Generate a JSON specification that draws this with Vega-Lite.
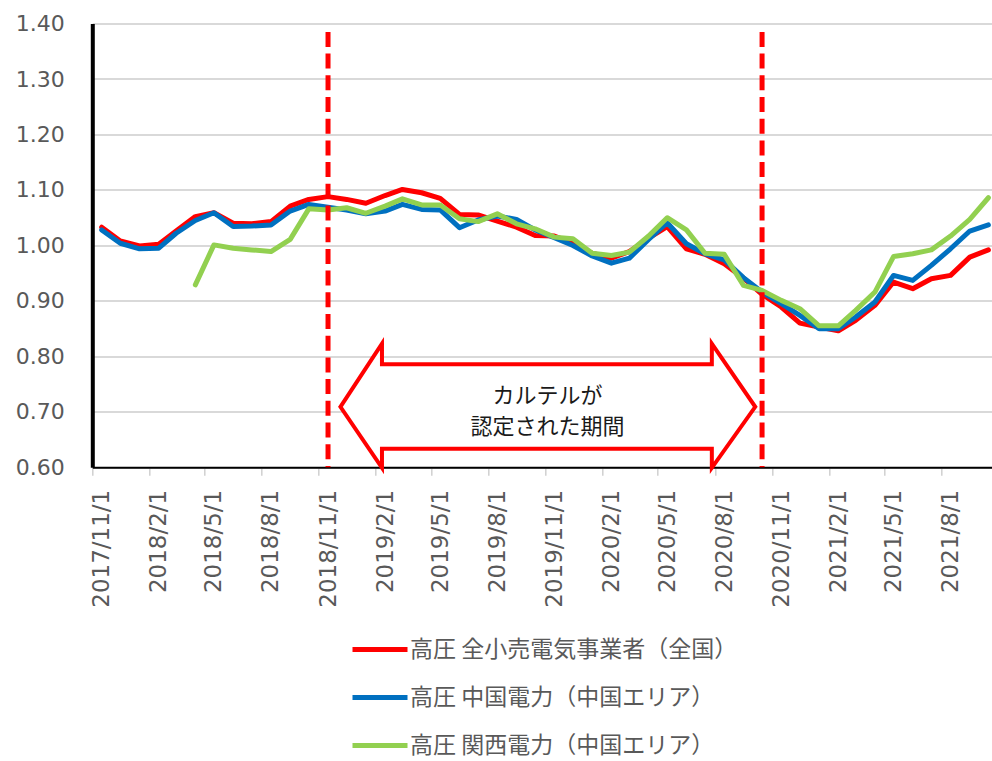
{
  "$schema": "https://vega.github.io/schema/vega-lite/v6.json",
  "autosize": {"type": "none"},
  "padding": {"left": 92.3, "top": 23.6, "right": 0, "bottom": 293.7},
  "width": 899.7,
  "height": 443.7,
  "background": "white",
  "config": {
    "view": {"stroke": null},
    "axis": {"labelFont": "DejaVu Sans", "labelColor": "#595959"}
  },
  "layer": [
    {
      "data": {"values": [
        {"month":"2017-11-01","高圧 全小売電気事業者（全国）":1.033,"高圧 中国電力（中国エリア）":1.028,"高圧 関西電力（中国エリア）":null},
        {"month":"2017-12-01","高圧 全小売電気事業者（全国）":1.008,"高圧 中国電力（中国エリア）":1.004,"高圧 関西電力（中国エリア）":null},
        {"month":"2018-01-01","高圧 全小売電気事業者（全国）":0.999,"高圧 中国電力（中国エリア）":0.994,"高圧 関西電力（中国エリア）":null},
        {"month":"2018-02-01","高圧 全小売電気事業者（全国）":1.002,"高圧 中国電力（中国エリア）":0.995,"高圧 関西電力（中国エリア）":null},
        {"month":"2018-03-01","高圧 全小売電気事業者（全国）":1.026,"高圧 中国電力（中国エリア）":1.022,"高圧 関西電力（中国エリア）":null},
        {"month":"2018-04-01","高圧 全小売電気事業者（全国）":1.052,"高圧 中国電力（中国エリア）":1.045,"高圧 関西電力（中国エリア）":0.929},
        {"month":"2018-05-01","高圧 全小売電気事業者（全国）":1.059,"高圧 中国電力（中国エリア）":1.059,"高圧 関西電力（中国エリア）":1.001},
        {"month":"2018-06-01","高圧 全小売電気事業者（全国）":1.040,"高圧 中国電力（中国エリア）":1.034,"高圧 関西電力（中国エリア）":0.995},
        {"month":"2018-07-01","高圧 全小売電気事業者（全国）":1.039,"高圧 中国電力（中国エリア）":1.035,"高圧 関西電力（中国エリア）":0.992},
        {"month":"2018-08-01","高圧 全小売電気事業者（全国）":1.043,"高圧 中国電力（中国エリア）":1.037,"高圧 関西電力（中国エリア）":0.989},
        {"month":"2018-09-01","高圧 全小売電気事業者（全国）":1.071,"高圧 中国電力（中国エリア）":1.062,"高圧 関西電力（中国エリア）":1.011},
        {"month":"2018-10-01","高圧 全小売電気事業者（全国）":1.083,"高圧 中国電力（中国エリア）":1.074,"高圧 関西電力（中国エリア）":1.066},
        {"month":"2018-11-01","高圧 全小売電気事業者（全国）":1.088,"高圧 中国電力（中国エリア）":1.069,"高圧 関西電力（中国エリア）":1.064},
        {"month":"2018-12-01","高圧 全小売電気事業者（全国）":1.083,"高圧 中国電力（中国エリア）":1.064,"高圧 関西電力（中国エリア）":1.068},
        {"month":"2019-01-01","高圧 全小売電気事業者（全国）":1.076,"高圧 中国電力（中国エリア）":1.057,"高圧 関西電力（中国エリア）":1.058},
        {"month":"2019-02-01","高圧 全小売電気事業者（全国）":1.090,"高圧 中国電力（中国エリア）":1.062,"高圧 関西電力（中国エリア）":1.071},
        {"month":"2019-03-01","高圧 全小売電気事業者（全国）":1.101,"高圧 中国電力（中国エリア）":1.074,"高圧 関西電力（中国エリア）":1.084},
        {"month":"2019-04-01","高圧 全小売電気事業者（全国）":1.095,"高圧 中国電力（中国エリア）":1.065,"高圧 関西電力（中国エリア）":1.073},
        {"month":"2019-05-01","高圧 全小売電気事業者（全国）":1.085,"高圧 中国電力（中国エリア）":1.064,"高圧 関西電力（中国エリア）":1.073},
        {"month":"2019-06-01","高圧 全小売電気事業者（全国）":1.056,"高圧 中国電力（中国エリア）":1.032,"高圧 関西電力（中国エリア）":1.048},
        {"month":"2019-07-01","高圧 全小売電気事業者（全国）":1.055,"高圧 中国電力（中国エリア）":1.046,"高圧 関西電力（中国エリア）":1.043},
        {"month":"2019-08-01","高圧 全小売電気事業者（全国）":1.044,"高圧 中国電力（中国エリア）":1.053,"高圧 関西電力（中国エリア）":1.057},
        {"month":"2019-09-01","高圧 全小売電気事業者（全国）":1.033,"高圧 中国電力（中国エリア）":1.047,"高圧 関西電力（中国エリア）":1.039},
        {"month":"2019-10-01","高圧 全小売電気事業者（全国）":1.018,"高圧 中国電力（中国エリア）":1.028,"高圧 関西電力（中国エリア）":1.030},
        {"month":"2019-11-01","高圧 全小売電気事業者（全国）":1.017,"高圧 中国電力（中国エリア）":1.014,"高圧 関西電力（中国エリア）":1.015},
        {"month":"2019-12-01","高圧 全小売電気事業者（全国）":1.004,"高圧 中国電力（中国エリア）":1.000,"高圧 関西電力（中国エリア）":1.012},
        {"month":"2020-01-01","高圧 全小売電気事業者（全国）":0.986,"高圧 中国電力（中国エリア）":0.981,"高圧 関西電力（中国エリア）":0.986},
        {"month":"2020-02-01","高圧 全小売電気事業者（全国）":0.977,"高圧 中国電力（中国エリア）":0.968,"高圧 関西電力（中国エリア）":0.982},
        {"month":"2020-03-01","高圧 全小売電気事業者（全国）":0.989,"高圧 中国電力（中国エリア）":0.977,"高圧 関西電力（中国エリア）":0.988},
        {"month":"2020-04-01","高圧 全小売電気事業者（全国）":1.013,"高圧 中国電力（中国エリア）":1.011,"高圧 関西電力（中国エリア）":1.017},
        {"month":"2020-05-01","高圧 全小売電気事業者（全国）":1.034,"高圧 中国電力（中国エリア）":1.041,"高圧 関西電力（中国エリア）":1.050},
        {"month":"2020-06-01","高圧 全小売電気事業者（全国）":0.994,"高圧 中国電力（中国エリア）":1.003,"高圧 関西電力（中国エリア）":1.028},
        {"month":"2020-07-01","高圧 全小売電気事業者（全国）":0.984,"高圧 中国電力（中国エリア）":0.985,"高圧 関西電力（中国エリア）":0.986},
        {"month":"2020-08-01","高圧 全小売電気事業者（全国）":0.967,"高圧 中国電力（中国エリア）":0.974,"高圧 関西電力（中国エリア）":0.984},
        {"month":"2020-09-01","高圧 全小売電気事業者（全国）":0.941,"高圧 中国電力（中国エリア）":0.942,"高圧 関西電力（中国エリア）":0.928},
        {"month":"2020-10-01","高圧 全小売電気事業者（全国）":0.912,"高圧 中国電力（中国エリア）":0.916,"高圧 関西電力（中国エリア）":0.919},
        {"month":"2020-11-01","高圧 全小売電気事業者（全国）":0.889,"高圧 中国電力（中国エリア）":0.895,"高圧 関西電力（中国エリア）":0.901},
        {"month":"2020-12-01","高圧 全小売電気事業者（全国）":0.860,"高圧 中国電力（中国エリア）":0.874,"高圧 関西電力（中国エリア）":0.886},
        {"month":"2021-01-01","高圧 全小売電気事業者（全国）":0.853,"高圧 中国電力（中国エリア）":0.850,"高圧 関西電力（中国エリア）":0.855},
        {"month":"2021-02-01","高圧 全小売電気事業者（全国）":0.846,"高圧 中国電力（中国エリア）":0.850,"高圧 関西電力（中国エリア）":0.855},
        {"month":"2021-03-01","高圧 全小売電気事業者（全国）":0.865,"高圧 中国電力（中国エリア）":0.871,"高圧 関西電力（中国エリア）":0.883},
        {"month":"2021-04-01","高圧 全小売電気事業者（全国）":0.892,"高圧 中国電力（中国エリア）":0.898,"高圧 関西電力（中国エリア）":0.916},
        {"month":"2021-05-01","高圧 全小売電気事業者（全国）":0.934,"高圧 中国電力（中国エリア）":0.946,"高圧 関西電力（中国エリア）":0.980},
        {"month":"2021-06-01","高圧 全小売電気事業者（全国）":0.922,"高圧 中国電力（中国エリア）":0.937,"高圧 関西電力（中国エリア）":0.985},
        {"month":"2021-07-01","高圧 全小売電気事業者（全国）":0.940,"高圧 中国電力（中国エリア）":0.964,"高圧 関西電力（中国エリア）":0.992},
        {"month":"2021-08-01","高圧 全小売電気事業者（全国）":0.946,"高圧 中国電力（中国エリア）":0.994,"高圧 関西電力（中国エリア）":1.017},
        {"month":"2021-09-01","高圧 全小売電気事業者（全国）":0.979,"高圧 中国電力（中国エリア）":1.026,"高圧 関西電力（中国エリア）":1.047},
        {"month":"2021-10-01","高圧 全小売電気事業者（全国）":0.992,"高圧 中国電力（中国エリア）":1.037,"高圧 関西電力（中国エリア）":1.086}
      ]},
      "transform": [
        {"fold": ["高圧 全小売電気事業者（全国）", "高圧 中国電力（中国エリア）", "高圧 関西電力（中国エリア）"], "as": ["series", "value"]}
      ],
      "mark": {"type": "line", "strokeWidth": 5, "strokeCap": "round", "strokeJoin": "round"},
      "encoding": {
        "x": {
          "field": "month", "type": "temporal",
          "scale": {"type": "utc", "domain": [{"year":2017,"month":10,"date":16,"hours":20,"utc":true},{"year":2021,"month":10,"date":6,"hours":20,"utc":true}], "nice": false},
          "axis": {
            "title": null,
            "values": [
              {"year":2017,"month":11,"date":1,"utc":true},
              {"year":2018,"month":2,"date":1,"utc":true},
              {"year":2018,"month":5,"date":1,"utc":true},
              {"year":2018,"month":8,"date":1,"utc":true},
              {"year":2018,"month":11,"date":1,"utc":true},
              {"year":2019,"month":2,"date":1,"utc":true},
              {"year":2019,"month":5,"date":1,"utc":true},
              {"year":2019,"month":8,"date":1,"utc":true},
              {"year":2019,"month":11,"date":1,"utc":true},
              {"year":2020,"month":2,"date":1,"utc":true},
              {"year":2020,"month":5,"date":1,"utc":true},
              {"year":2020,"month":8,"date":1,"utc":true},
              {"year":2020,"month":11,"date":1,"utc":true},
              {"year":2021,"month":2,"date":1,"utc":true},
              {"year":2021,"month":5,"date":1,"utc":true},
              {"year":2021,"month":8,"date":1,"utc":true}
            ],
            "format": "%Y/%-m/%-d",
            "labelAngle": -90,
            "labelFontSize": 23,
            "labelPadding": 14,
            "labelOverlap": false,
            "labelFlush": false,
            "tickOffset": -9.4,
            "labelOffset": 9.4,
            "tickSize": 8,
            "tickColor": "#d0d0d0",
            "tickWidth": 1.5,
            "domainColor": "#000000",
            "domainWidth": 2,
            "grid": false
          }
        },
        "y": {
          "field": "value", "type": "quantitative",
          "scale": {"domain": [0.6, 1.4], "nice": false, "zero": false},
          "axis": {
            "title": null,
            "values": [0.6, 0.7, 0.8, 0.9, 1.0, 1.1, 1.2, 1.3, 1.4],
            "format": ".2f",
            "labelFontSize": 22,
            "labelPadding": 28,
            "tickSize": 0,
            "domainColor": "#000000",
            "domainWidth": 4,
            "grid": true,
            "gridColor": "#d9d9d9",
            "gridWidth": 2
          }
        },
        "color": {
          "field": "series", "type": "nominal",
          "scale": {
            "domain": ["高圧 全小売電気事業者（全国）", "高圧 中国電力（中国エリア）", "高圧 関西電力（中国エリア）"],
            "range": ["#FF0000", "#0070C0", "#92D050"]
          },
          "legend": {
            "title": null,
            "orient": "none",
            "direction": "vertical",
            "legendX": 257.7,
            "legendY": 596,
            "padding": 0,
            "symbolType": "stroke",
            "symbolSize": 3025,
            "symbolStrokeWidth": 5,
            "labelFont": "Noto Sans CJK JP",
            "labelFontSize": 23,
            "labelColor": "#595959",
            "labelOffset": 0,
            "labelLimit": 0,
            "rowPadding": 6
          }
        }
      }
    },
    {
      "data": {"values": [{"month": "2018-11-01"}, {"month": "2020-10-01"}]},
      "mark": {"type": "rule", "color": "#FF0000", "strokeWidth": 5, "strokeDash": [15, 6.7]},
      "encoding": {
        "x": {"field": "month", "type": "temporal", "scale": {"type": "utc", "domain": [{"year":2017,"month":10,"date":16,"hours":20,"utc":true},{"year":2021,"month":10,"date":6,"hours":20,"utc":true}], "nice": false}},
        "y": {"datum": 1.385, "type": "quantitative"},
        "y2": {"datum": 0.6}
      }
    },
    {
      "data": {"values": [
        {"k": 1, "month": "2018-11-21", "v": 0.709},
        {"k": 2, "month": "2019-01-27", "v": 0.823},
        {"k": 3, "month": "2019-01-27", "v": 0.7856},
        {"k": 4, "month": "2020-07-12", "v": 0.7856},
        {"k": 5, "month": "2020-07-12", "v": 0.823},
        {"k": 6, "month": "2020-09-20", "v": 0.709},
        {"k": 7, "month": "2020-07-12", "v": 0.599},
        {"k": 8, "month": "2020-07-12", "v": 0.6336},
        {"k": 9, "month": "2019-01-27", "v": 0.6336},
        {"k": 10, "month": "2019-01-27", "v": 0.599}
      ]},
      "mark": {"type": "line", "interpolate": "linear-closed", "fill": "white", "stroke": "#FF0000", "strokeWidth": 4, "strokeJoin": "miter"},
      "encoding": {
        "x": {"field": "month", "type": "temporal", "scale": {"type": "utc", "domain": [{"year":2017,"month":10,"date":16,"hours":20,"utc":true},{"year":2021,"month":10,"date":6,"hours":20,"utc":true}], "nice": false}},
        "y": {"field": "v", "type": "quantitative"},
        "order": {"field": "k", "type": "quantitative"}
      }
    },
    {
      "data": {"values": [{"month": "2019-10-21", "v": 0.728, "label": "カルテルが\n認定された期間"}]},
      "mark": {"type": "text", "font": "Noto Sans CJK JP", "fontSize": 22, "color": "#1a1a1a", "lineBreak": "\n", "lineHeight": 31, "align": "center", "baseline": "middle"},
      "encoding": {
        "x": {"field": "month", "type": "temporal", "scale": {"type": "utc", "domain": [{"year":2017,"month":10,"date":16,"hours":20,"utc":true},{"year":2021,"month":10,"date":6,"hours":20,"utc":true}], "nice": false}},
        "y": {"field": "v", "type": "quantitative"},
        "text": {"field": "label"}
      }
    },
    {
      "mark": {"type": "rule", "color": "#000000", "strokeWidth": 4},
      "encoding": {"y": {"datum": 1.4, "type": "quantitative"}}
    }
  ]
}
